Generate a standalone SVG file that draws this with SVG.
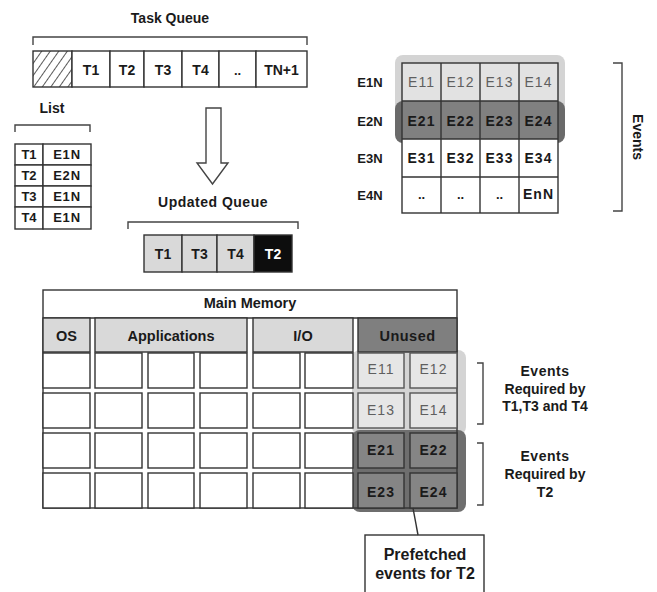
<svg xmlns="http://www.w3.org/2000/svg" width="657" height="592" viewBox="0 0 657 592">
<defs>
<pattern id="hatch" width="7" height="7" patternUnits="userSpaceOnUse" patternTransform="rotate(35)">
<line x1="0" y1="0" x2="0" y2="7" stroke="#222" stroke-width="1.5"/>
</pattern>
<style>
text{font-family:"Liberation Sans",Arial,sans-serif;font-weight:bold;fill:#1a1a1a;text-anchor:middle}
.t14{font-size:14px}
.t13{font-size:13px}
.cell{fill:#fff;stroke:#333;stroke-width:1.4}
.lg{fill:#d9d9d9;stroke:#333;stroke-width:1.4}
.dk{fill:#7f7f7f;stroke:#333;stroke-width:1.4}
.blk{fill:#0d0d0d;stroke:#333;stroke-width:1.4}
.ev{font-size:14px;letter-spacing:1px}
.evl{font-size:14px;letter-spacing:1px;font-weight:normal;fill:#5f5f5f}
.br{fill:none;stroke:#444;stroke-width:1.4}
.mc{fill:#fff;stroke:#333;stroke-width:1.4}
</style>
</defs>
<rect width="657" height="592" fill="#fff"/>

<g id="task-queue">
<text class="t14" x="170" y="23">Task Queue</text>
<rect x="33" y="51" width="39" height="36" fill="url(#hatch)" stroke="#333" stroke-width="1.4"/>
<rect class="cell" x="72" y="51" width="38" height="36"/>
<rect class="cell" x="110" y="51" width="34" height="36"/>
<rect class="cell" x="144" y="51" width="38" height="36"/>
<rect class="cell" x="182" y="51" width="37" height="36"/>
<rect class="cell" x="219" y="51" width="37" height="36"/>
<rect class="cell" x="256" y="51" width="51" height="36"/>
<text class="t14" x="91" y="75">T1</text>
<text class="t14" x="127" y="75">T2</text>
<text class="t14" x="163" y="75">T3</text>
<text class="t14" x="200.5" y="75">T4</text>
<text class="t13" x="237.5" y="75">..</text>
<text class="t14" x="281.5" y="75">TN+1</text>
</g>

<g id="list">
<text class="t14" x="52" y="113">List</text>
<rect class="cell" x="15" y="144" width="28" height="21"/>
<rect class="cell" x="43" y="144" width="48" height="21"/>
<rect class="cell" x="15" y="165" width="28" height="21"/>
<rect class="cell" x="43" y="165" width="48" height="21"/>
<rect class="cell" x="15" y="186" width="28" height="21"/>
<rect class="cell" x="43" y="186" width="48" height="21"/>
<rect class="cell" x="15" y="207" width="28" height="22"/>
<rect class="cell" x="43" y="207" width="48" height="22"/>
<text class="t13" x="29" y="159">T1</text><text class="t13" x="67" y="159" letter-spacing="0.8">E1N</text>
<text class="t13" x="29" y="180">T2</text><text class="t13" x="67" y="180" letter-spacing="0.8">E2N</text>
<text class="t13" x="29" y="201">T3</text><text class="t13" x="67" y="201" letter-spacing="0.8">E1N</text>
<text class="t13" x="29" y="222">T4</text><text class="t13" x="67" y="222" letter-spacing="0.8">E1N</text>
</g>

<g id="updated-queue">
<text class="t14" x="213" y="207" letter-spacing="0.5">Updated Queue</text>
<rect class="lg" x="144" y="235" width="38" height="37"/>
<rect class="lg" x="182" y="235" width="35" height="37"/>
<rect class="lg" x="217" y="235" width="37" height="37"/>
<rect class="blk" x="254" y="235" width="38" height="37"/>
<text class="t14" x="163" y="259">T1</text>
<text class="t14" x="199.5" y="259">T3</text>
<text class="t14" x="235.5" y="259">T4</text>
<text class="t14" x="273" y="259" style="fill:#fff">T2</text>
</g>

<g id="events-matrix">
<rect x="395" y="55" width="170" height="70" rx="8" fill="#d4d4d4"/>
<rect x="395" y="101" width="170" height="42" rx="8" fill="#6a6a6a"/>
<rect x="402" y="63" width="156" height="38" fill="#e2e2e2"/>
<rect x="402" y="101" width="156" height="38" fill="#808080"/>
<rect x="402" y="139" width="156" height="74" fill="#fff"/>
<g fill="none" stroke="#333" stroke-width="1.4">
<rect x="402" y="63" width="156" height="150"/>
<path d="M441 63V213M480 63V213M519 63V213M402 101H558M402 139H558M402 177H558"/>
</g>
<text class="t13" x="370" y="87">E1N</text>
<text class="t13" x="370" y="126">E2N</text>
<text class="t13" x="370" y="163">E3N</text>
<text class="t13" x="370" y="200">E4N</text>
<text class="evl" x="421.5" y="87">E11</text>
<text class="evl" x="460.5" y="87">E12</text>
<text class="evl" x="499.5" y="87">E13</text>
<text class="evl" x="538.5" y="87">E14</text>
<text class="ev" x="421.5" y="126">E21</text>
<text class="ev" x="460.5" y="126">E22</text>
<text class="ev" x="499.5" y="126">E23</text>
<text class="ev" x="538.5" y="126">E24</text>
<text class="ev" x="421.5" y="163">E31</text>
<text class="ev" x="460.5" y="163">E32</text>
<text class="ev" x="499.5" y="163">E33</text>
<text class="ev" x="538.5" y="163">E34</text>
<text class="t13" x="421.5" y="199">..</text>
<text class="t13" x="460.5" y="199">..</text>
<text class="t13" x="499.5" y="199">..</text>
<text class="ev" x="538.5" y="199">EnN</text>
<text class="t14" x="0" y="0" transform="translate(633 137) rotate(90)">Events</text>
</g>

<g id="main-memory">
<rect x="352" y="350" width="114" height="85" rx="8" fill="#d4d4d4"/>
<rect x="352" y="430" width="114" height="82" rx="8" fill="#6e6e6e"/>
<rect x="43" y="290" width="414" height="218" fill="none" stroke="#333" stroke-width="1.4"/>
<line x1="43" y1="318" x2="457" y2="318" stroke="#333" stroke-width="1.4"/>
<text class="t14" x="250" y="308" style="font-size:14.5px">Main Memory</text>
<rect class="lg" x="43" y="318" width="47" height="34"/>
<rect class="lg" x="95" y="318" width="152" height="34"/>
<rect class="lg" x="253" y="318" width="100" height="34"/>
<rect class="dk" x="358" y="318" width="99" height="34"/>
<text class="t14" x="66.5" y="341" style="font-size:14.5px">OS</text>
<text class="t14" x="171" y="341" style="font-size:14.5px">Applications</text>
<text class="t14" x="303" y="341" style="font-size:14.5px">I/O</text>
<text class="t14" x="407.5" y="341" style="font-size:14.5px" letter-spacing="0.5">Unused</text>
<g class="mc">
<rect x="43" y="353" width="47" height="35"/><rect x="95" y="353" width="47" height="35"/><rect x="148" y="353" width="46" height="35"/><rect x="200" y="353" width="47" height="35"/><rect x="253" y="353" width="47" height="35"/><rect x="305" y="353" width="48" height="35"/>
<rect x="43" y="393" width="47" height="35"/><rect x="95" y="393" width="47" height="35"/><rect x="148" y="393" width="46" height="35"/><rect x="200" y="393" width="47" height="35"/><rect x="253" y="393" width="47" height="35"/><rect x="305" y="393" width="48" height="35"/>
<rect x="43" y="433" width="47" height="35"/><rect x="95" y="433" width="47" height="35"/><rect x="148" y="433" width="46" height="35"/><rect x="200" y="433" width="47" height="35"/><rect x="253" y="433" width="47" height="35"/><rect x="305" y="433" width="48" height="35"/>
<rect x="43" y="473" width="47" height="35"/><rect x="95" y="473" width="47" height="35"/><rect x="148" y="473" width="46" height="35"/><rect x="200" y="473" width="47" height="35"/><rect x="253" y="473" width="47" height="35"/><rect x="305" y="473" width="48" height="35"/>
</g>
<g fill="#e6e6e6" stroke="#555" stroke-width="1.4">
<rect x="358" y="353" width="46" height="35"/><rect x="410" y="353" width="47" height="35"/>
<rect x="358" y="393" width="46" height="35"/><rect x="410" y="393" width="47" height="35"/>
</g>
<g fill="#858585" stroke="#333" stroke-width="1.4">
<rect x="358" y="433" width="46" height="35"/><rect x="410" y="433" width="47" height="35"/>
<rect x="358" y="473" width="46" height="35"/><rect x="410" y="473" width="47" height="35"/>
</g>
<text class="evl" x="381" y="374">E11</text>
<text class="evl" x="433.5" y="374">E12</text>
<text class="evl" x="381" y="415">E13</text>
<text class="evl" x="433.5" y="415">E14</text>
<text class="ev" x="381" y="455">E21</text>
<text class="ev" x="433.5" y="455">E22</text>
<text class="ev" x="381" y="497">E23</text>
<text class="ev" x="433.5" y="497">E24</text>
</g>

<g id="label-t134">
<text class="t14" x="545" y="376" letter-spacing="0.5">Events</text>
<text class="t14" x="545" y="394">Required by</text>
<text class="t14" x="545" y="411">T1,T3 and T4</text>
</g>
<g id="label-t2">
<text class="t14" x="545" y="461" letter-spacing="0.5">Events</text>
<text class="t14" x="545" y="479">Required by</text>
<text class="t14" x="545" y="497">T2</text>
</g>
<g id="prefetched">
<rect x="365" y="535" width="119" height="70" fill="#fff" stroke="#333" stroke-width="1.4"/>
<text x="425" y="560" style="font-size:16px">Prefetched</text>
<text x="425" y="579" style="font-size:16px">events for T2</text>
</g>

<g id="connectors">
<path class="br" d="M33 45V37H307V45"/>
<path class="br" d="M15 132V125H90V132"/>
<path class="br" d="M128 229V222H298V229"/>
<path class="br" d="M613 63H622V211H613"/>
<path class="br" d="M477 363H483V424H477"/>
<path class="br" d="M477 443H483V505H477"/>
<path d="M206 108H221V163H228L212.5 184L197 163H206Z" fill="#fff" stroke="#444" stroke-width="1.4" stroke-linejoin="miter"/>
<line x1="413" y1="508" x2="418" y2="535" stroke="#333" stroke-width="1.4"/>
</g>
</svg>
